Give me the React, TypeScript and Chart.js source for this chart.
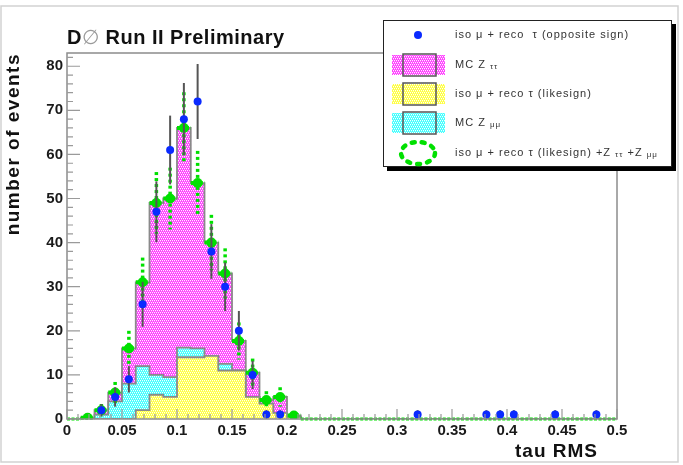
import { useEffect, useRef } from 'react';
import { Chart, registerables } from 'chart.js';

Chart.register(...registerables);

// ---------- binning ----------
const BIN_WIDTH = 0.0125;
const N_BINS = 40;
const binLow: number[] = Array.from({ length: N_BINS }, (_, k) => +(k * BIN_WIDTH).toFixed(5));
const binCenters: number[] = binLow.map((x) => +(x + BIN_WIDTH / 2).toFixed(5));

// ---------- data ----------
// iso mu + reco tau (opposite sign) : counts per bin
const dataOS = [0, 0, 2, 5, 9, 26, 47, 61, 68, 72, 38, 30, 20, 10, 1, 1, 0, 0, 0, 0, 0, 0, 0, 0, 0, 1, 0, 0, 0, 0, 1, 1, 1, 0, 0, 1, 0, 0, 1, 0];
const dataOSErr = [0, 0, 1.4, 2.2, 3, 5.1, 6.9, 7.8, 8.2, 8.5, 6.2, 5.5, 4.5, 3.2, 1, 1, 0, 0, 0, 0, 0, 0, 0, 0, 0, 1, 0, 0, 0, 0, 1, 1, 1, 0, 0, 1, 0, 0, 1, 0];

// stacked histogram levels (cumulative tops as drawn)
// likesign (yellow, bottom)
const likeSignTop = [0, 0, 0, 0, 0, 2, 5.5, 5, 14, 14, 14.3, 11, 11, 5, 3.5, 1.4, 0.5, 0, 0, 0, 0, 0, 0, 0, 0, 0, 0, 0, 0, 0, 0, 0, 0, 0, 0, 0, 0, 0, 0, 0];
// likesign + MC Z mumu (cyan)
const zmumuTop = [0, 0, 1, 4, 8, 12, 10, 9.5, 16.2, 16, 14.3, 12.5, 11, 5, 3.5, 1.4, 0.5, 0, 0, 0, 0, 0, 0, 0, 0, 0, 0, 0, 0, 0, 0, 0, 0, 0, 0, 0, 0, 0, 0, 0];
// likesign + MC Z mumu + MC Z tautau (magenta, top)
const ztautauTop = [0, 0.3, 2, 6, 16, 31, 49, 50, 66, 53.5, 40, 33, 17.7, 10.5, 4.3, 5, 0.8, 0, 0, 0, 0, 0, 0, 0, 0, 0, 0, 0, 0, 0, 0, 0, 0, 0, 0, 0, 0, 0, 0, 0];

// green: iso mu + reco tau (likesign) + Z tautau + Z mumu, with errors
const sumPred = [0, 0.3, 2, 6, 16, 31, 49, 50, 66, 53.5, 40, 33, 17.7, 10.5, 4.3, 5, 0.8, 0, 0, 0, 0, 0, 0, 0, 0, 0, 0, 0, 0, 0, 0, 0, 0, 0, 0, 0, 0, 0, 0, 0];
const sumPredErr = [0, 0.5, 1.4, 2.4, 4, 5.6, 7, 7, 8.1, 7.3, 6.3, 5.7, 4.2, 3.2, 2, 2.2, 0.9, 0, 0, 0, 0, 0, 0, 0, 0, 0, 0, 0, 0, 0, 0, 0, 0, 0, 0, 0, 0, 0, 0, 0];

const xTickStep = 0.05;
const yMax = 83;
const yTickStep = 10;

const MAGENTA = '#ff3cff';
const YELLOW = '#ffff40';
const CYAN = '#40ffff';
const GREEN = '#00e000';
const BLUE = '#0a2aff';
const OUTLINE = '#8a8a8a';
const FONT = '"Liberation Sans", Arial, Helvetica, sans-serif';

function makePattern(color: string): CanvasPattern | string {
  const c = document.createElement('canvas');
  c.width = 4;
  c.height = 4;
  const g = c.getContext('2d');
  if (!g) return color;
  g.fillStyle = color;
  g.fillRect(0, 0, 4, 4);
  g.fillStyle = 'rgba(255,255,255,0.95)';
  g.fillRect(0, 0, 1, 1);
  g.fillRect(2, 0, 1, 1);
  g.fillRect(1, 2, 1, 1);
  g.fillRect(3, 2, 1, 1);
  g.fillStyle = 'rgba(255,255,255,0.35)';
  g.fillRect(0, 1, 1, 1);
  g.fillRect(2, 1, 1, 1);
  g.fillRect(1, 3, 1, 1);
  g.fillRect(3, 3, 1, 1);
  return g.createPattern(c, 'repeat') || color;
}

const hist = (vals: number[]) => binCenters.map((x, i) => ({ x, y: vals[i] }));
const outline = (vals: number[]) => [
  { x: 0, y: 0 },
  ...binLow.map((x, i) => ({ x, y: vals[i] })),
  { x: 0.5, y: 0 },
];

const errorBars = {
  id: 'errorBars',
  beforeDatasetDraw(chart: any, args: any) {
    const ds = chart.data.datasets[args.index];
    const style = ds.errStyle;
    if (!style) return;
    const { ctx } = chart;
    const xs = chart.scales.x;
    const ys = chart.scales.y;
    ctx.save();
    for (const p of ds.data) {
      const px = xs.getPixelForValue(p.x);
      if (style === 'data') {
        if (p.y <= 0) continue;
        ctx.strokeStyle = '#555';
        ctx.lineWidth = 2;
        ctx.setLineDash([]);
        ctx.beginPath();
        ctx.moveTo(px, ys.getPixelForValue(p.y + p.err));
        ctx.lineTo(px, ys.getPixelForValue(Math.max(0, p.y - p.err)));
        ctx.stroke();
      } else {
        const py = ys.getPixelForValue(p.y);
        ctx.strokeStyle = GREEN;
        ctx.lineWidth = p.y > 0 ? 4 : 3;
        ctx.setLineDash([3, 1.5]);
        ctx.beginPath();
        ctx.moveTo(xs.getPixelForValue(p.x - BIN_WIDTH / 2), py);
        ctx.lineTo(xs.getPixelForValue(p.x + BIN_WIDTH / 2), py);
        ctx.stroke();
        if (p.err > 0) {
          ctx.lineWidth = 3.5;
          ctx.setLineDash([3, 3]);
          ctx.beginPath();
          ctx.moveTo(px, ys.getPixelForValue(p.y + p.err));
          ctx.lineTo(px, ys.getPixelForValue(Math.max(0, p.y - p.err)));
          ctx.stroke();
        }
      }
    }
    ctx.restore();
  },
};

const frameAndTicks = {
  id: 'frameAndTicks',
  afterDatasetsDraw(chart: any) {
    const { ctx, chartArea: a } = chart;
    const xs = chart.scales.x;
    const ys = chart.scales.y;
    ctx.save();
    ctx.strokeStyle = '#8c8c8c';
    ctx.lineWidth = 1.5;
    ctx.setLineDash([]);
    ctx.strokeRect(a.left, a.top, a.right - a.left, a.bottom - a.top);
    ctx.strokeStyle = '#9a9a9a';
    ctx.lineWidth = 1.2;
    ctx.beginPath();
    for (let k = 0; k <= 50; k++) {
      const v = k * 0.01;
      const px = xs.getPixelForValue(v);
      const len = k % 5 === 0 ? 10 : 5;
      ctx.moveTo(px, a.bottom);
      ctx.lineTo(px, a.bottom - len);
    }
    for (let k = 0; k * 2 <= yMax; k++) {
      const v = k * 2;
      const py = ys.getPixelForValue(v);
      const len = k % 5 === 0 ? 13 : 6;
      ctx.moveTo(a.left, py);
      ctx.lineTo(a.left + len, py);
    }
    ctx.stroke();
    ctx.restore();
  },
};

type Part = { t: string; sub?: boolean };
function drawRich(ctx: CanvasRenderingContext2D, parts: Part[], x: number, y: number, size: number) {
  let cx = x;
  for (const p of parts) {
    const s = p.sub ? Math.round(size * 0.75) : size;
    ctx.font = `${s}px ${FONT}`;
    ctx.fillText(p.t, cx, p.sub ? y + 2 : y);
    cx += ctx.measureText(p.t).width;
  }
}

const decorations = {
  id: 'decorations',
  afterDraw(chart: any) {
    const ctx: CanvasRenderingContext2D = chart.ctx;
    const a = chart.chartArea;
    ctx.save();
    // canvas border
    ctx.strokeStyle = '#d2d2d2';
    ctx.lineWidth = 1.5;
    ctx.strokeRect(1, 6, 677, 456);

    // title
    ctx.textBaseline = 'alphabetic';
    ctx.textAlign = 'left';
    (ctx as any).letterSpacing = '0.5px';
    ctx.font = `bold 20px ${FONT}`;
    ctx.fillStyle = '#111';
    let tx = a.left;
    ctx.fillText('D', tx, 44);
    tx += ctx.measureText('D').width;
    ctx.fillStyle = '#9a9a9a';
    ctx.font = `20px ${FONT}`;
    ctx.fillText('\u2205', tx, 44);
    tx += ctx.measureText('\u2205').width;
    ctx.fillStyle = '#111';
    ctx.font = `bold 20px ${FONT}`;
    ctx.fillText(' Run II Preliminary', tx, 44);

    // x title
    (ctx as any).letterSpacing = '1px';
    ctx.font = `bold 19px ${FONT}`;
    ctx.textAlign = 'right';
    ctx.fillStyle = '#111';
    ctx.fillText('tau RMS', 598, 457);

    // y title
    ctx.save();
    ctx.translate(14, a.top);
    ctx.rotate(-Math.PI / 2);
    ctx.textAlign = 'right';
    ctx.textBaseline = 'middle';
    (ctx as any).letterSpacing = '1.5px';
    ctx.font = `bold 19px ${FONT}`;
    ctx.fillText('number of events', 0, 0);
    ctx.restore();

    // legend
    (ctx as any).letterSpacing = '0px';
    const L = 383, T = 20, W = 289, H = 147;
    ctx.fillStyle = '#000';
    ctx.fillRect(L + 4, T + 4, W, H);
    ctx.fillStyle = '#fff';
    ctx.fillRect(L, T, W, H);
    ctx.strokeStyle = '#222';
    ctx.lineWidth = 1;
    ctx.strokeRect(L + 0.5, T + 0.5, W - 1, H - 1);

    const ix = 418;
    const textX = 455;
    const rows = [35, 65, 94, 123, 153];
    // row 1: data marker
    ctx.fillStyle = BLUE;
    ctx.beginPath();
    ctx.arc(ix, rows[0], 4, 0, Math.PI * 2);
    ctx.fill();
    // rows 2-4: fill boxes
    const boxes = [MAGENTA, YELLOW, CYAN];
    boxes.forEach((col, i) => {
      const yc = rows[i + 1];
      ctx.fillStyle = makePattern(col) as any;
      ctx.fillRect(392, yc - 10, 53, 20);
      ctx.strokeStyle = '#555';
      ctx.lineWidth = 1.5;
      ctx.strokeRect(403, yc - 11, 33, 22);
    });
    // row 5: green dotted
    ctx.strokeStyle = GREEN;
    ctx.lineWidth = 4.5;
    ctx.lineCap = 'round';
    ctx.setLineDash([3, 7]);
    ctx.beginPath();
    ctx.ellipse(ix, rows[4], 17, 11, 0, 0, Math.PI * 2);
    ctx.stroke();
    ctx.setLineDash([]);
    ctx.lineCap = 'butt';

    ctx.fillStyle = '#333';
    ctx.textAlign = 'left';
    ctx.textBaseline = 'middle';
    (ctx as any).letterSpacing = '1px';
    const labels: Part[][] = [
      [{ t: 'iso \u03bc + reco  \u03c4 (opposite sign)' }],
      [{ t: 'MC Z ' }, { t: '\u03c4\u03c4', sub: true }],
      [{ t: 'iso \u03bc + reco \u03c4 (likesign)' }],
      [{ t: 'MC Z ' }, { t: '\u03bc\u03bc', sub: true }],
      [{ t: 'iso \u03bc + reco \u03c4 (likesign) +Z ' }, { t: '\u03c4\u03c4', sub: true }, { t: ' +Z ' }, { t: '\u03bc\u03bc', sub: true }],
    ];
    labels.forEach((parts, i) => drawRich(ctx, parts, textX, rows[i], 11));
    ctx.restore();
  },
};

export default function App() {
  const ref = useRef<HTMLCanvasElement | null>(null);
  useEffect(() => {
    document.body.style.margin = '0';
    const canvas = ref.current;
    if (!canvas) return;
    const chart = new Chart(canvas, {
      type: 'bar',
      data: {
        datasets: [
          {
            type: 'scatter',
            label: 'iso \u03bc + reco \u03c4 (opposite sign)',
            data: binCenters.map((x, i) => ({ x, y: dataOS[i], err: dataOSErr[i] })).filter((p) => p.y > 0),
            pointRadius: 4,
            pointHoverRadius: 4,
            pointBackgroundColor: BLUE,
            pointBorderColor: BLUE,
            pointBorderWidth: 0,
            errStyle: 'data',
          } as any,
          {
            type: 'scatter',
            label: 'iso \u03bc + reco \u03c4 (likesign) +Z \u03c4\u03c4 +Z \u03bc\u03bc',
            data: binCenters.map((x, i) => ({ x, y: sumPred[i], err: sumPredErr[i] })),
            pointRadius: (c: any) => (c.raw && c.raw.y > 0 ? 5 : 0),
            pointBackgroundColor: GREEN,
            pointBorderColor: GREEN,
            pointBorderWidth: 0,
            errStyle: 'pred',
          } as any,
          {
            type: 'line',
            label: 'likesign outline',
            data: outline(likeSignTop),
            stepped: 'before',
            borderColor: OUTLINE,
            borderWidth: 1.8,
            pointRadius: 0,
            fill: false,
          } as any,
          {
            type: 'bar',
            label: 'iso \u03bc + reco \u03c4 (likesign)',
            data: hist(likeSignTop),
            backgroundColor: makePattern(YELLOW),
            borderWidth: 0,
            grouped: false,
            barPercentage: 1,
            categoryPercentage: 1,
          } as any,
          {
            type: 'line',
            label: 'Z mumu outline',
            data: outline(zmumuTop),
            stepped: 'before',
            borderColor: OUTLINE,
            borderWidth: 1.8,
            pointRadius: 0,
            fill: false,
          } as any,
          {
            type: 'bar',
            label: 'MC Z \u03bc\u03bc',
            data: hist(zmumuTop),
            backgroundColor: makePattern(CYAN),
            borderWidth: 0,
            grouped: false,
            barPercentage: 1,
            categoryPercentage: 1,
          } as any,
          {
            type: 'line',
            label: 'Z tautau outline',
            data: outline(ztautauTop),
            stepped: 'before',
            borderColor: OUTLINE,
            borderWidth: 1.8,
            pointRadius: 0,
            fill: false,
          } as any,
          {
            type: 'bar',
            label: 'MC Z \u03c4\u03c4',
            data: hist(ztautauTop),
            backgroundColor: makePattern(MAGENTA),
            borderWidth: 0,
            grouped: false,
            barPercentage: 1,
            categoryPercentage: 1,
          } as any,
        ],
      },
      options: {
        animation: false,
        responsive: false,
        maintainAspectRatio: false,
        events: [],
        layout: { padding: { top: 53, right: 66, left: 0, bottom: 0 } },
        plugins: {
          legend: { display: false },
          tooltip: { enabled: false },
          title: { display: false },
        },
        scales: {
          x: {
            type: 'linear',
            min: 0,
            max: 0.5,
            offset: false,
            grid: { display: false, drawTicks: false },
            border: { display: false },
            ticks: {
              stepSize: xTickStep,
              autoSkip: false,
              maxRotation: 0,
              padding: 3,
              color: '#1a1a1a',
              font: { family: FONT, size: 15, weight: 'bold' },
              callback: (v: any) => String(+Number(v).toFixed(2)),
            },
            afterFit: (s: any) => {
              s.height = 46;
            },
          },
          y: {
            type: 'linear',
            min: 0,
            max: yMax,
            grid: { display: false, drawTicks: false },
            border: { display: false },
            ticks: {
              stepSize: yTickStep,
              includeBounds: false,
              padding: 4,
              color: '#1a1a1a',
              font: { family: FONT, size: 15, weight: 'bold' },
            },
            afterFit: (s: any) => {
              s.width = 67;
            },
          },
        },
      } as any,
      plugins: [errorBars, frameAndTicks, decorations],
    });
    return () => chart.destroy();
  }, []);
  return <canvas ref={ref} width={683} height={465} style={{ display: 'block' }} />;
}
